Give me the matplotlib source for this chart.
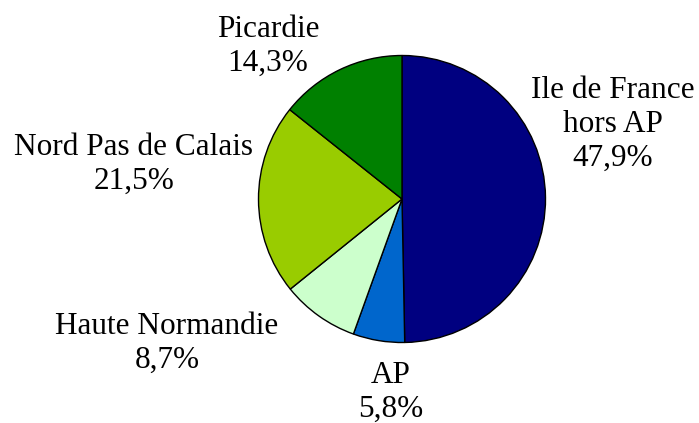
import matplotlib.pyplot as plt

regions = ["Ile de France\nhors AP", "AP", "Haute Normandie", "Nord Pas de Calais", "Picardie"]
# slice sizes as drawn in the picture (the printed percentages are kept separately)
shares = [49.7, 5.8, 8.7, 21.5, 14.3]
pct_labels = ["47,9%", "5,8%", "8,7%", "21,5%", "14,3%"]
colors = ["#000080", "#0066CC", "#CCFFCC", "#99CC00", "#008000"]

# label anchor points in pixel coords of the 699x423 canvas
label_pos = [(613, 299), (391, 31), (167, 80), (134, 259), (268, 377)]

fig = plt.figure(figsize=(6.99, 4.23), dpi=100)
ax = fig.add_axes([0, 0, 1, 1])
ax.pie(shares, colors=colors, startangle=90, counterclock=False,
       center=(402, 224), radius=143.5,
       wedgeprops=dict(edgecolor="black", linewidth=1.0))
ax.set_xlim(0, 699)
ax.set_ylim(0, 423)
ax.set_aspect("equal")
ax.axis("off")

for name, pct, (x, y) in zip(regions, pct_labels, label_pos):
    ax.text(x, y, f"{name}\n{pct}", ha="center", va="center",
            fontsize=22.5, family="Liberation Serif", linespacing=1.22)

fig.savefig("out.png", dpi=100)
